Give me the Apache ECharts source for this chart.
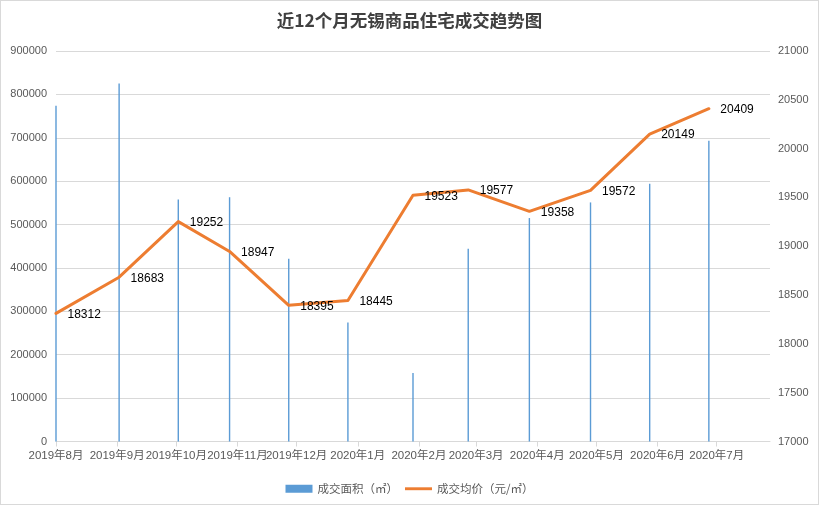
<!DOCTYPE html>
<html>
<head>
<meta charset="utf-8">
<script src="https://cdn.jsdelivr.net/npm/echarts@6/dist/echarts.min.js"></script>
<style>
html,body{margin:0;padding:0;background:#fff;}
#wrap{position:relative;width:819px;height:505px;}
#chart{position:absolute;left:0;top:0;width:819px;height:505px;}
#frame{position:absolute;left:0;top:0;width:819px;height:505px;box-sizing:border-box;border:1px solid #d9d9d9;pointer-events:none;}
</style>
</head>
<body>
<div id="wrap"><div id="chart"></div><div id="frame"></div></div>
<script>
// ---- data ----
const titleText = '近12个月无锡商品住宅成交趋势图';
const seriesNames = ['成交面积（㎡）', '成交均价（元/㎡）'];
const dealDates = ['2019-08-01','2019-09-02','2019-10-02','2019-10-28','2019-11-27','2019-12-27',
                   '2020-01-29','2020-02-26','2020-03-28','2020-04-28','2020-05-28','2020-06-27'];
const areaValues = [774000, 825000, 558000, 563000, 421000, 274000, 158000, 444000, 515000, 551000, 594000, 693000];
const priceValues = [18312, 18683, 19252, 18947, 18395, 18445, 19523, 19577, 19358, 19572, 20149, 20409];
const monthTickDates = ['2019-08-01','2019-09-01','2019-10-01','2019-11-01','2019-12-01','2020-01-01',
                        '2020-02-01','2020-03-01','2020-04-01','2020-05-01','2020-06-01','2020-07-01'];
const monthLabels = ['2019年8月','2019年9月','2019年10月','2019年11月','2019年12月','2020年1月',
                     '2020年2月','2020年3月','2020年4月','2020年5月','2020年6月','2020年7月'];
const axisStartDate = '2019-08-01';
const axisEndDate = '2020-07-28';

// ---- helpers ----
function dayOffset(s) {
  const p = s.split('-').map(Number);
  const b = axisStartDate.split('-').map(Number);
  return Math.round((Date.UTC(p[0], p[1]-1, p[2]) - Date.UTC(b[0], b[1]-1, b[2])) / 86400000);
}
const tickOffsets = monthTickDates.map(dayOffset);
const labelMap = {};
tickOffsets.forEach((d, i) => { labelMap[d] = monthLabels[i]; });

const FONT = '"Liberation Sans", Arial, "Noto Sans CJK SC", sans-serif';
const chart = echarts.init(document.getElementById('chart'), null, {renderer: 'canvas'});
chart.setOption({
  animation: false,
  backgroundColor: '#fff',
  textStyle: {fontFamily: FONT},
  title: {
    text: titleText,
    left: 'center',
    top: 12,
    padding: 0,
    textStyle: {fontSize: 17.5, fontWeight: 'bold', color: '#404040', fontFamily: '"Noto Sans CJK SC", sans-serif'}
  },
  legend: {
    top: 478,
    left: 'center',
    itemWidth: 27,
    itemHeight: 8,
    itemGap: 7,
    textStyle: {fontSize: 11.5, color: '#595959', fontFamily: '"Noto Sans CJK SC", sans-serif'},
    data: [
      {name: seriesNames[0], icon: 'rect'},
      {name: seriesNames[1], icon: 'path://M0 0H28V3H0Z'}
    ]
  },
  grid: {left: 56, right: 49, top: 51, bottom: 63.5, containLabel: false, outerBoundsMode: 'none'},
  xAxis: {
    type: 'value',
    min: 0,
    max: dayOffset(axisEndDate),
    splitLine: {show: false},
    axisLine: {show: true, lineStyle: {color: '#d9d9d9', width: 1}},
    axisTick: {show: true, customValues: tickOffsets, length: 5, lineStyle: {color: '#d9d9d9'}},
    axisLabel: {
      customValues: tickOffsets,
      margin: 9,
      fontSize: 11.5,
      color: '#595959',
      formatter: v => labelMap[v] || ''
    }
  },
  yAxis: [
    {
      type: 'value', min: 0, max: 900000, interval: 100000,
      axisLine: {show: false}, axisTick: {show: false},
      splitLine: {lineStyle: {color: '#d9d9d9', width: 1}},
      axisLabel: {fontSize: 11, color: '#595959', margin: 9, formatter: v => String(v)}
    },
    {
      type: 'value', min: 17000, max: 21000, interval: 500,
      axisLine: {show: false}, axisTick: {show: false},
      splitLine: {show: false},
      axisLabel: {fontSize: 11, color: '#595959', margin: 8, formatter: v => String(v)}
    }
  ],
  series: [
    {
      name: seriesNames[0],
      type: 'bar',
      yAxisIndex: 0,
      barWidth: 1.4,
      itemStyle: {color: '#5B9BD5'},
      data: dealDates.map((d, i) => [dayOffset(d), areaValues[i]])
    },
    {
      name: seriesNames[1],
      type: 'line',
      yAxisIndex: 1,
      symbol: 'circle',
      symbolSize: 1,
      itemStyle: {color: '#ED7D31'},
      lineStyle: {color: '#ED7D31', width: 3, cap: 'round', join: 'round'},
      label: {
        show: true,
        position: 'right',
        distance: 11,
        offset: [0, 1],
        fontSize: 12,
        color: '#000',
        fontFamily: FONT
      },
      data: dealDates.map((d, i) => [dayOffset(d), priceValues[i]])
    }
  ]
});
</script>
</body>
</html>
